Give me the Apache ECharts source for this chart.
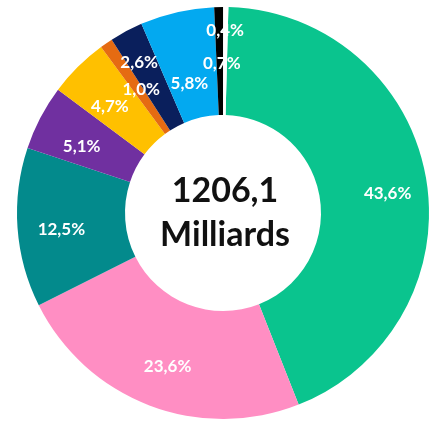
<!DOCTYPE html>
<html>
<head>
<meta charset="utf-8">
<script src="https://cdn.jsdelivr.net/npm/echarts@6/dist/echarts.min.js"></script>
<style>
  html, body { margin: 0; padding: 0; background: #ffffff; }
  #chart { width: 436px; height: 421px; }
</style>
</head>
<body>
<div id="chart"></div>
<script>
// ---- data ----
const categories = ['A', 'B', 'C', 'D', 'E', 'F', 'G', 'H', 'I', 'J'];
const shares = [43.6, 23.6, 12.5, 5.1, 4.7, 1.0, 2.6, 5.8, 0.7, 0.4];
const shareLabels = ['43,6%', '23,6%', '12,5%', '5,1%', '4,7%', '1,0%', '2,6%', '5,8%', '0,7%', '0,4%'];
const totalLine1 = '1206,1';
const totalLine2 = 'Milliards';

// ---- styles ----
const colors = ['#0AC48E', '#FF8EC3', '#038A8C', '#7030A0', '#FFC000', '#E56B12', '#0A1F5C', '#03A9F0', '#000000', '#FFFFFF'];
const labelNudge = [[12, 7], [0, 9], [-7, 5], [-4, 5], [-4, 4], [6, 4], [-11, -14], [1, 22], [2, 5], [0, -27]];
const CX = 223, CY = 213;

const chart = echarts.init(document.getElementById('chart'));
chart.setOption({
  animation: false,
  backgroundColor: '#ffffff',
  series: [{
    type: 'pie',
    center: [CX, CY],
    radius: [98, 206],
    startAngle: 88.5,
    clockwise: true,
    avoidLabelOverlap: false,
    silent: true,
    itemStyle: { borderWidth: 0 },
    label: {
      show: true,
      position: 'inside',
      color: '#ffffff',
      fontFamily: 'Lato',
      fontWeight: 'bold',
      fontSize: 17,
      formatter: p => shareLabels[p.dataIndex]
    },
    labelLine: { show: false },
    labelLayout: p => ({ dx: labelNudge[p.dataIndex][0], dy: labelNudge[p.dataIndex][1] }),
    data: categories.map((c, i) => ({ name: c, value: shares[i], itemStyle: { color: colors[i] } }))
  }],
  graphic: [{
    type: 'text',
    x: CX + 2,
    y: CY,
    style: {
      text: totalLine1 + '\n' + totalLine2,
      fill: '#111111',
      font: 'bold 34px Lato',
      lineHeight: 44,
      align: 'center',
      verticalAlign: 'middle'
    }
  }]
});
</script>
</body>
</html>
